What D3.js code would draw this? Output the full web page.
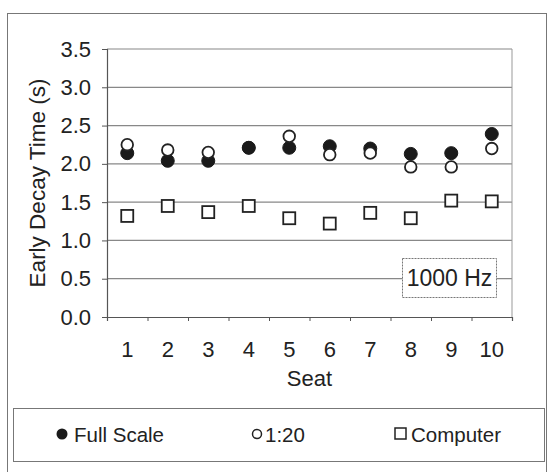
<!DOCTYPE html>
<html>
<head>
<meta charset="utf-8">
<script src="https://cdn.jsdelivr.net/npm/d3@7"></script>
<style>
  body { margin: 0; background: #fff; }
  text { font-family: "Liberation Sans", Arial, sans-serif; fill: #222; }
</style>
</head>
<body>
<svg id="chart" width="548" height="472"></svg>
<script>
var seats = [1, 2, 3, 4, 5, 6, 7, 8, 9, 10];
var fullScale = [2.14, 2.04, 2.04, 2.21, 2.21, 2.23, 2.20, 2.13, 2.14, 2.39];
var model = [2.25, 2.18, 2.15, 2.21, 2.36, 2.12, 2.14, 1.96, 1.96, 2.20];
var computer = [1.32, 1.45, 1.37, 1.45, 1.29, 1.22, 1.36, 1.29, 1.52, 1.51];
var yTicks = [0, 0.5, 1, 1.5, 2, 2.5, 3, 3.5];

var svg = d3.select("#chart");

// outer frame
svg.append("rect")
    .attr("x", 7.5).attr("y", 13.5)
    .attr("width", 539).attr("height", 470)
    .attr("fill", "none").attr("stroke", "#777").attr("stroke-width", 1);

var x = d3.scaleLinear().domain([0.5, 10.5]).range([107, 512]);
var y = d3.scaleLinear().domain([0, 3.5]).range([317, 49]);

// gridlines
svg.append("g")
  .selectAll("line")
  .data(yTicks.slice(1))
  .join("line")
    .attr("x1", x(0.5)).attr("x2", x(10.5))
    .attr("y1", d => y(d)).attr("y2", d => y(d))
    .attr("stroke", "#888").attr("stroke-width", 1.2);

// plot border (right side)
svg.append("line")
    .attr("x1", x(10.5)).attr("x2", x(10.5))
    .attr("y1", y(3.5)).attr("y2", y(0))
    .attr("stroke", "#999").attr("stroke-width", 1);

// y axis
var yAxis = d3.axisLeft(y).tickValues(yTicks).tickFormat(d3.format(".1f")).tickSize(5).tickPadding(11);
var gy = svg.append("g").attr("transform", "translate(" + x(0.5) + ",0)").call(yAxis);
gy.select(".domain").attr("stroke", "#555").attr("stroke-width", 1.2);
gy.selectAll(".tick line").attr("stroke", "#555");
gy.selectAll("text").style("font-size", "22px").attr("fill", "#222")
    .style("font-family", "Liberation Sans, Arial, sans-serif");

// x axis: ticks on category boundaries, labels at centers
var xAxis = d3.axisBottom(x).tickValues(d3.range(0.5, 11, 1)).tickSize(4).tickFormat("");
var gx = svg.append("g").attr("transform", "translate(0," + y(0) + ")").call(xAxis);
gx.select(".domain").attr("stroke", "#555").attr("stroke-width", 1.2);
gx.selectAll(".tick line").attr("stroke", "#555");

svg.append("g")
  .selectAll("text")
  .data(seats)
  .join("text")
    .attr("x", d => x(d))
    .attr("y", 357)
    .attr("text-anchor", "middle")
    .style("font-size", "22px")
    .text(d => d);

svg.append("text")
    .attr("x", x(5.5)).attr("y", 386)
    .attr("text-anchor", "middle")
    .style("font-size", "22px")
    .text("Seat");

svg.append("text")
    .attr("transform", "translate(45," + (y(1.75)) + ") rotate(-90)")
    .attr("text-anchor", "middle")
    .style("font-size", "22.5px")
    .text("Early Decay Time (s)");

// 1000 Hz label box
svg.append("rect")
    .attr("x", 402.5).attr("y", 258.5).attr("width", 94).attr("height", 39)
    .attr("fill", "#fff").attr("stroke", "#777").attr("stroke-width", 1)
    .attr("stroke-dasharray", "2,1");
svg.append("text")
    .attr("x", 449.5).attr("y", 286)
    .attr("text-anchor", "middle")
    .style("font-size", "23px")
    .text("1000 Hz");

// markers
var pts = svg.append("g");
pts.selectAll(".cmp")
  .data(seats)
  .join("rect")
    .attr("class", "cmp")
    .attr("x", (d, i) => x(d) - 6)
    .attr("y", (d, i) => y(computer[i]) - 6)
    .attr("width", 12).attr("height", 12)
    .attr("fill", "#fff").attr("stroke", "#222").attr("stroke-width", 1.8);

pts.selectAll(".fs")
  .data(seats)
  .join("circle")
    .attr("class", "fs")
    .attr("cx", d => x(d))
    .attr("cy", (d, i) => y(fullScale[i]))
    .attr("r", 6.5)
    .attr("fill", "#1a1a1a").attr("stroke", "#1a1a1a").attr("stroke-width", 1);

pts.selectAll(".md")
  .data(seats)
  .join("circle")
    .attr("class", "md")
    .attr("cx", d => x(d))
    .attr("cy", (d, i) => y(model[i]))
    .attr("r", 5.8)
    .attr("fill", "#fff").attr("stroke", "#222").attr("stroke-width", 1.8);

// redraw full-scale on top where the two overlap (seat 4)
pts.selectAll(".fs2")
  .data(seats.filter((d, i) => Math.abs(fullScale[i] - model[i]) < 0.02))
  .join("circle")
    .attr("cx", d => x(d))
    .attr("cy", d => y(fullScale[d - 1]))
    .attr("r", 6.5)
    .attr("fill", "#1a1a1a");

// legend
svg.append("rect")
    .attr("x", 13.5).attr("y", 408.5).attr("width", 531).attr("height", 53)
    .attr("fill", "#fff").attr("stroke", "#777").attr("stroke-width", 1);

var legend = svg.append("g").attr("transform", "translate(0,434)");
legend.append("circle").attr("cx", 62).attr("cy", 0).attr("r", 5.5).attr("fill", "#1a1a1a");
legend.append("text").attr("x", 74).attr("y", 7.5).style("font-size", "20.5px").text("Full Scale");
legend.append("circle").attr("cx", 257).attr("cy", 0).attr("r", 4.5)
    .attr("fill", "#fff").attr("stroke", "#222").attr("stroke-width", 1.5);
legend.append("text").attr("x", 265).attr("y", 7.5).style("font-size", "20.5px").text("1:20");
legend.append("rect").attr("x", 395).attr("y", -6).attr("width", 11).attr("height", 11)
    .attr("fill", "#fff").attr("stroke", "#222").attr("stroke-width", 1.5);
legend.append("text").attr("x", 411).attr("y", 7.5).style("font-size", "20.5px").text("Computer");
</script>
</body>
</html>
